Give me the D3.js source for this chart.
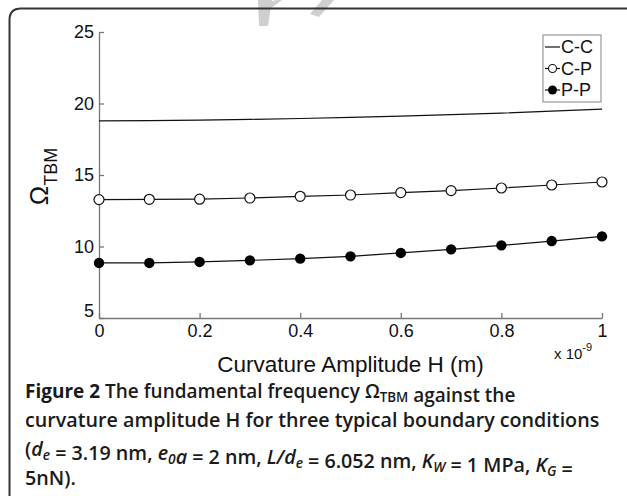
<!DOCTYPE html>
<html>
<head>
<meta charset="utf-8">
<script src="https://cdn.jsdelivr.net/npm/d3@7"></script>
<style>
  body { margin: 0; background: #fff; }
  svg text { font-family: "Liberation Sans", Arial, sans-serif; }
  .caption { font-family: "Open Sans", sans-serif; font-size: 20px; font-weight: 600; fill: #1a1a1a; }
</style>
</head>
<body>
<div id="chart"></div>
<script>
// curvature amplitude H (x 1e-9 m)
const hValues = [0, 0.1, 0.2, 0.3, 0.4, 0.5, 0.6, 0.7, 0.8, 0.9, 1.0];
const ccValues = [18.78, 18.80, 18.84, 18.89, 18.95, 19.03, 19.12, 19.22, 19.33, 19.46, 19.60];
const cpValues = [13.28, 13.30, 13.31, 13.39, 13.51, 13.60, 13.77, 13.91, 14.09, 14.30, 14.51];
const ppValues = [8.85, 8.85, 8.92, 9.03, 9.15, 9.31, 9.55, 9.80, 10.08, 10.38, 10.71];
const xTicks = [0, 0.2, 0.4, 0.6, 0.8, 1];
const yTicks = [5, 10, 15, 20, 25];
const legendLabels = ["C-C", "C-P", "P-P"];

let svg = d3.select("#chart").append("svg")
    .attr("width", 627)
    .attr("height", 496);

// faint watermark pieces peeking in at the top
svg.append("path")
    .attr("d", "M258,0 L272,0 L268,26 L259,26 Z M262,4 L276,0 L282,0 L266,12 Z")
    .attr("fill", "#cfcfcf");
svg.append("path")
    .attr("d", "M322,0 L334,0 L319,17 L310,14 Z")
    .attr("fill", "#cfcfcf");

// outer frame (rounded corner, open to the right and bottom)
svg.append("path")
    .attr("d", "M627,8.5 L21,8.5 Q9.5,8.5 9.5,20 L9.5,496")
    .attr("fill", "none")
    .attr("stroke", "#333")
    .attr("stroke-width", 2);

let margin = {top: 32, left: 99, right: 25, bottom: 178},
    width = 627 - margin.left - margin.right,
    height = 496 - margin.top - margin.bottom;

let g = svg.append("g")
    .attr("transform", "translate(" + margin.left + "," + margin.top + ")");

let x = d3.scaleLinear().domain([0, 1]).range([0, width]);
let y = d3.scaleLinear().domain([5, 25]).range([height, 0]);

// axes, matlab style: inward ticks, no box
let xAxis = d3.axisBottom(x).tickValues(xTicks).tickSizeInner(-5).tickSizeOuter(0)
    .tickFormat(d => d === 0 || d === 1 ? d3.format("d")(d) : d3.format(".1f")(d));
let yAxis = d3.axisLeft(y).tickValues(yTicks).tickSizeInner(-5).tickSizeOuter(0);

let gx = g.append("g").attr("transform", "translate(0," + height + ")").call(xAxis);
let gy = g.append("g").call(yAxis);

[gx, gy].forEach(a => {
    a.attr("font-family", "Liberation Sans").attr("font-size", 18);
    a.select(".domain").attr("stroke", "#777").attr("stroke-width", 1.3);
    a.selectAll(".tick line").attr("stroke", "#777").attr("stroke-width", 1.3);
    a.selectAll(".tick text").attr("fill", "#111");
});
gx.selectAll(".tick text").attr("dy", "0.95em").attr("y", 2);
gy.selectAll(".tick text").attr("x", -5).attr("dy", "0.32em");
gy.selectAll(".tick").filter(d => d === 5).select("text").attr("dy", "-0.1em");

// lines
let line = d3.line().x((d, i) => x(hValues[i])).y(d => y(d));

[ccValues, cpValues, ppValues].forEach(vals => {
    g.append("path").attr("d", line(vals))
        .attr("fill", "none").attr("stroke", "#111").attr("stroke-width", 1.2);
});

g.selectAll(".cp").data(cpValues).enter().append("circle")
    .attr("cx", (d, i) => x(hValues[i])).attr("cy", d => y(d)).attr("r", 5)
    .attr("fill", "#fff").attr("stroke", "#111").attr("stroke-width", 1.2);
g.selectAll(".pp").data(ppValues).enter().append("circle")
    .attr("cx", (d, i) => x(hValues[i])).attr("cy", d => y(d)).attr("r", 5.2)
    .attr("fill", "#000");

// legend
let lg = svg.append("g").attr("transform", "translate(543,35)");
lg.append("rect").attr("width", 58).attr("height", 67)
    .attr("fill", "#fff").attr("stroke", "#999").attr("stroke-width", 1.2);
legendLabels.forEach((lab, i) => {
    let ly = 12 + i * 21.5;
    lg.append("line").attr("x1", 2).attr("x2", 17).attr("y1", ly).attr("y2", ly)
        .attr("stroke", "#111").attr("stroke-width", 1.2);
    if (i === 1) lg.append("circle").attr("cx", 9.5).attr("cy", ly).attr("r", 4)
        .attr("fill", "#fff").attr("stroke", "#111").attr("stroke-width", 1.1);
    if (i === 2) lg.append("circle").attr("cx", 9.5).attr("cy", ly).attr("r", 4.5)
        .attr("fill", "#000");
    lg.append("text").attr("x", 18).attr("y", ly).attr("dy", "0.36em")
        .attr("font-size", 18).attr("fill", "#111").text(lab);
});

// axis labels
svg.append("text")
    .attr("transform", "translate(48,176.5) rotate(-90)")
    .attr("text-anchor", "middle").attr("fill", "#111")
    .call(t => {
        t.append("tspan").attr("font-size", 26).text("Ω");
        t.append("tspan").attr("font-size", 18).attr("dy", 9).text("TBM");
    });

svg.append("text")
    .attr("x", margin.left + width / 2).attr("y", 372)
    .attr("text-anchor", "middle").attr("font-size", 22.5).attr("fill", "#111")
    .text("Curvature Amplitude H (m)");

svg.append("text")
    .attr("x", 554).attr("y", 359).attr("font-size", 15).attr("fill", "#111")
    .call(t => {
        t.append("tspan").text("x 10");
        t.append("tspan").attr("dy", -8).attr("font-size", 11).text("-9");
    });

// caption, one text per printed line
function capLine(yPos, sx) {
    return svg.append("text").attr("class", "caption")
        .attr("transform", "translate(25," + yPos + ") scale(" + sx + ",1)");
}
function sub(t, s, italic) {
    t.append("tspan").attr("font-size", 14).attr("dy", 4)
        .attr("font-style", italic ? "italic" : null).text(s);
    t.append("tspan").attr("dy", -4).text("");
}

let cap = capLine(398, 0.95);
cap.append("tspan").attr("font-weight", 700).text("Figure 2 ");
cap.append("tspan").text("The fundamental frequency Ω");
sub(cap, "TBM", false);
cap.append("tspan").text(" against the");

capLine(427, 0.985).text("curvature amplitude H for three typical boundary conditions");

let l3 = capLine(456, 0.985);
l3.append("tspan").text("(");
l3.append("tspan").attr("font-style", "italic").text("d");
sub(l3, "e", true);
l3.append("tspan").text(" = 3.19 nm, ");
l3.append("tspan").attr("font-style", "italic").text("e");
sub(l3, "0", true);
l3.append("tspan").attr("font-style", "italic").text("a");
l3.append("tspan").text(" = 2 nm, ");
l3.append("tspan").attr("font-style", "italic").text("L/d");
sub(l3, "e", true);
l3.append("tspan").text(" = 6.052 nm, ");
l3.append("tspan").attr("font-style", "italic").text("K");
sub(l3, "W", true);
l3.append("tspan").text(" = 1 MPa, ");
l3.append("tspan").attr("font-style", "italic").text("K");
sub(l3, "G", true);
l3.append("tspan").text(" =");

capLine(485, 0.985).text("5nN).");
</script>
</body>
</html>
